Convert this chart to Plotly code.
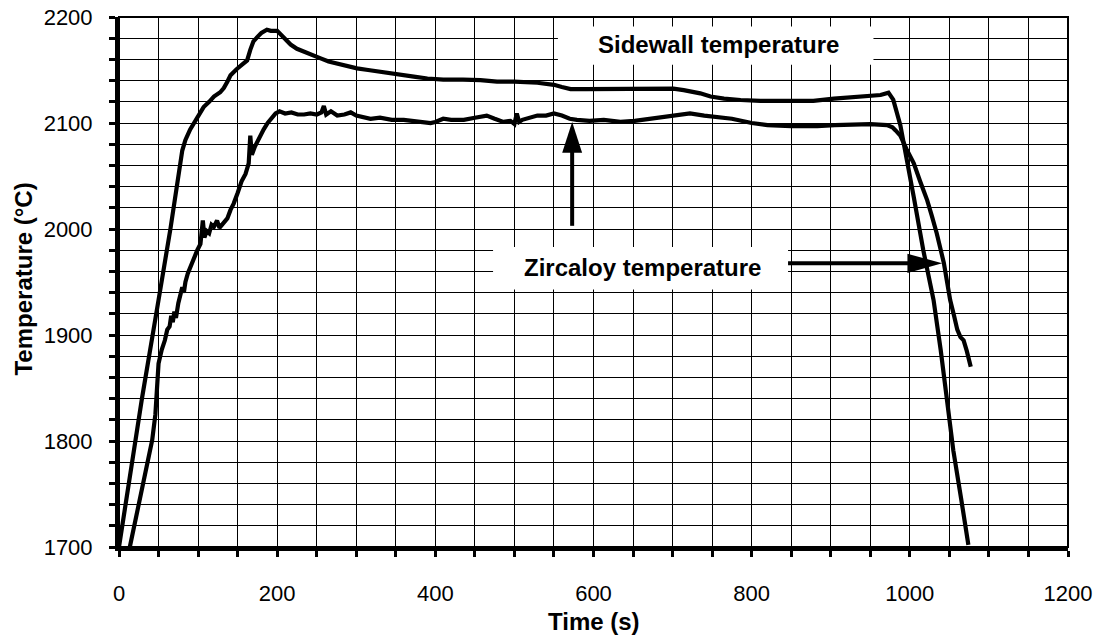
import plotly.graph_objects as go

# Sidewall temperature trace (time in s, temperature in deg C)
side_time = [0, 21, 29, 50, 65, 80, 84, 90, 95, 101, 107, 114, 120, 128, 132.5, 137, 141,
             149, 156, 162, 166, 170, 176, 180, 187, 192, 200, 204, 210, 217, 225, 234,
             245, 255, 265, 276, 288, 301, 315, 331, 345, 360, 375, 390, 410, 435, 457,
             478, 500, 529, 550, 560, 571, 590, 609, 634, 660, 690, 701, 714, 725, 735,
             748, 765, 786, 811, 840, 878, 904, 931, 950, 963, 973, 979, 988, 996, 1005,
             1017, 1030, 1039, 1047, 1055, 1065, 1074]
side_temp = [1700, 1801, 1840, 1933, 2000, 2074, 2084, 2094, 2100, 2108, 2115, 2120, 2125,
             2129, 2133, 2139, 2145, 2151, 2155, 2159, 2169, 2177, 2182, 2185, 2188, 2187,
             2187, 2184, 2180, 2174, 2170, 2167, 2164, 2161, 2158, 2156, 2154, 2151.5, 2150,
             2148, 2146.5, 2145, 2143.5, 2142, 2141, 2141, 2140.5, 2139, 2139, 2138, 2136,
             2134, 2132, 2132, 2132, 2132, 2132.5, 2132.5, 2132.5, 2131, 2129.5, 2128, 2125,
             2123, 2121.7, 2120.8, 2120.8, 2120.8, 2123, 2124.8, 2125.5, 2126.4, 2128.6,
             2122, 2098, 2068, 2030, 1980, 1933, 1886, 1842, 1791, 1745, 1702]

# Zircaloy temperature trace
zirc_time = [13.7, 25, 35, 42, 46, 48, 50, 54, 58, 61, 64, 66, 68, 70, 72, 75, 78, 80, 82,
             84, 87, 90, 95, 99, 103, 105, 106, 108, 111, 114, 117, 120, 124, 127, 132,
             137, 141, 145, 150, 155, 160, 164, 166, 168, 172, 178, 183, 188, 193, 198,
             203, 210, 218, 226, 234, 242, 250, 256, 259, 262, 268, 276, 285, 293, 300,
             310, 318, 330, 345, 360, 375, 385, 394, 400, 410, 420, 436, 450, 465, 475,
             486, 495, 500, 503, 506, 510, 520, 529, 540, 550, 560, 570, 579, 595, 613,
             634, 652, 672, 690, 710, 722, 740, 756, 775, 800, 820, 850, 883, 905, 929,
             950, 971, 978, 982, 988, 996, 1005, 1013, 1022, 1028, 1034, 1043, 1051, 1056,
             1060, 1064, 1068, 1072, 1077]
zirc_temp = [1700, 1742, 1776, 1801, 1825, 1845, 1873, 1886, 1895, 1905, 1908, 1918, 1912,
             1922, 1916, 1930, 1940, 1945, 1940, 1950, 1958, 1964, 1972, 1980, 1986, 2000,
             2008, 1992, 1998, 1996, 2004, 2002, 2008, 2001, 2005, 2010, 2018, 2024, 2034,
             2045, 2052, 2062, 2088, 2070, 2078, 2088, 2094, 2100, 2104, 2109, 2111, 2109,
             2110, 2108, 2108, 2109, 2108, 2110, 2116, 2108, 2111, 2107, 2108, 2110, 2107,
             2105, 2104, 2105, 2103, 2103, 2102, 2101, 2100, 2101, 2104, 2103, 2103, 2105,
             2107, 2104, 2101, 2102, 2099, 2109, 2101, 2103, 2105, 2107, 2107, 2109, 2107,
             2104, 2103, 2102, 2103, 2101, 2102, 2104, 2106, 2108, 2109, 2107, 2106, 2104,
             2100, 2098, 2097, 2097, 2098, 2099, 2099, 2098, 2096, 2093, 2088, 2075, 2062,
             2045, 2027, 2012, 1996, 1968, 1933, 1918, 1905, 1898, 1895, 1885, 1870]

x_ticks = [0, 200, 400, 600, 800, 1000, 1200]
y_ticks = [1700, 1800, 1900, 2000, 2100, 2200]

FONT = "Arial, Liberation Sans, sans-serif"
LABEL_SIZE = 24

fig = go.Figure()
for t, v in ((side_time, side_temp), (zirc_time, zirc_temp)):
    fig.add_trace(go.Scatter(x=t, y=v, mode="lines",
                             line=dict(color="black", width=4.2), showlegend=False))

# white label panels sit over the grid but under the data
panels = [dict(x0=555, x1=954, y0=2155, y1=2191),
          dict(x0=473, x1=846, y0=1943, y1=1983)]
shapes = []
for p in panels:
    shapes.append(dict(type="rect", xref="x", yref="y", layer="between",
                       fillcolor="white", line=dict(width=0), **p))

# upward arrow to the Zircaloy curve
up_x, up_tail, up_tip, up_len, up_half = 573, 2003, 2101, 29, 12.6
shapes.append(dict(type="line", xref="x", yref="y", x0=up_x, x1=up_x,
                   y0=up_tail, y1=up_tip - up_len + 2, line=dict(color="black", width=4)))
shapes.append(dict(type="path", xref="x", yref="y", fillcolor="black", line=dict(width=0),
                   path=f"M {up_x - up_half},{up_tip - up_len} L {up_x + up_half},{up_tip - up_len} "
                        f"L {up_x},{up_tip} Z"))

# rightward arrow to the Zircaloy curve
r_y, r_tail, r_tip, r_len, r_half = 1967.6, 846, 1041, 44, 9
shapes.append(dict(type="line", xref="x", yref="y", x0=r_tail, x1=r_tip - r_len + 2,
                   y0=r_y, y1=r_y, line=dict(color="black", width=4)))
shapes.append(dict(type="path", xref="x", yref="y", fillcolor="black", line=dict(width=0),
                   path=f"M {r_tip - r_len},{r_y - r_half} L {r_tip - r_len},{r_y + r_half} "
                        f"L {r_tip},{r_y} Z"))

# frame on the top and right edges
shapes.append(dict(type="rect", xref="paper", yref="paper", x0=0, x1=1, y0=0, y1=1,
                   line=dict(color="black", width=2), layer="above"))

annotations = [
    dict(x=(555 + 954) / 2 + 4, y=2174, xref="x", yref="y", text="<b>Sidewall temperature</b>",
         showarrow=False, font=dict(family=FONT, size=LABEL_SIZE, color="black")),
    dict(x=(473 + 846) / 2 + 2, y=1964, xref="x", yref="y", text="<b>Zircaloy temperature</b>",
         showarrow=False, font=dict(family=FONT, size=LABEL_SIZE, color="black")),
    dict(x=0.5, y=-0.1415, xref="paper", yref="paper", text="<b>Time (s)</b>",
         showarrow=False, yanchor="middle", font=dict(family=FONT, size=LABEL_SIZE, color="black")),
    dict(x=-0.1006, y=0.5057, xref="paper", yref="paper", text="<b>Temperature (°C)</b>",
         showarrow=False, textangle=-90, xanchor="center", yanchor="middle",
         font=dict(family=FONT, size=LABEL_SIZE, color="black")),
]

axis_common = dict(showline=True, linecolor="black", linewidth=4, ticks="outside",
                   ticklen=6, tickwidth=3, tickcolor="black", showgrid=True,
                   gridcolor="black", gridwidth=1, zeroline=False, automargin=False,
                   tickfont=dict(family=FONT, size=22, color="black"))

fig.update_xaxes(range=[0, 1200], tickvals=x_ticks, ticklabelstandoff=18,
                 minor=dict(dtick=50, tick0=0, ticks="outside", ticklen=6, tickwidth=3,
                            tickcolor="black", showgrid=True, gridcolor="black", gridwidth=1),
                 **axis_common)
fig.update_yaxes(range=[1700, 2200], tickvals=y_ticks, ticklabelstandoff=12,
                 minor=dict(dtick=20, tick0=1700, ticks="outside", ticklen=6, tickwidth=3,
                            tickcolor="black", showgrid=True, gridcolor="black", gridwidth=1),
                 **axis_common)

fig.update_layout(width=1101, height=639, margin=dict(l=118.5, r=33, t=17, b=92),
                  plot_bgcolor="white", paper_bgcolor="white",
                  shapes=shapes, annotations=annotations,
                  font=dict(family=FONT, color="black"))

fig.write_html("out.html")
